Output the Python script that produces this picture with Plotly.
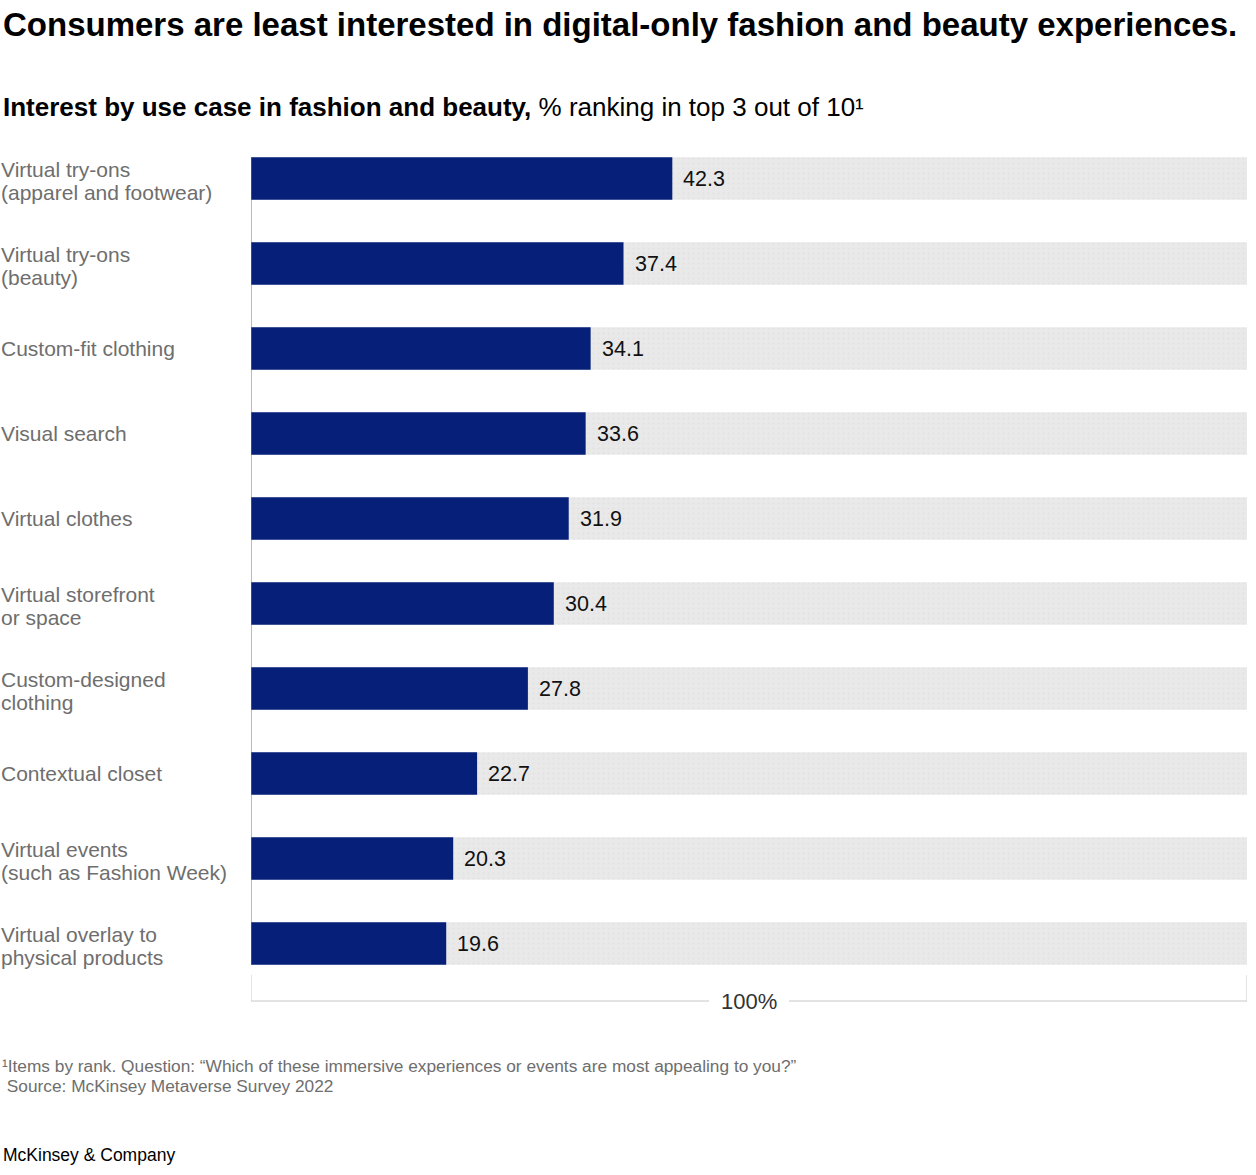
import plotly.graph_objects as go

categories = [
    "Virtual try-ons<br>(apparel and footwear)",
    "Virtual try-ons<br>(beauty)",
    "Custom-fit clothing",
    "Visual search",
    "Virtual clothes",
    "Virtual storefront<br>or space",
    "Custom-designed<br>clothing",
    "Contextual closet",
    "Virtual events<br>(such as Fashion Week)",
    "Virtual overlay to<br>physical products",
]
values = [42.3, 37.4, 34.1, 33.6, 31.9, 30.4, 27.8, 22.7, 20.3, 19.6]
totals = [100] * len(categories)
scale_label = "100%"
footnotes = [
    "¹Items by rank. Question: “Which of these immersive experiences or events are most appealing to you?”",
    " Source: McKinsey Metaverse Survey 2022",
]

W, H = 1256, 1175
ML, MR, MT, MB = 251, 9, 136, 189
PW = W - ML - MR
PH = H - MT - MB

FONT = "Liberation Sans"
BLUE = "#061f78"
GRAY_TXT = "#6e6e6e"

fig = go.Figure()
fig.add_trace(go.Bar(
    y=categories, x=totals, orientation="h", width=0.5,
    marker=dict(color="#e8e8e8", line=dict(width=0),
                pattern=dict(shape=".", bgcolor="#e9e9e9", fgcolor="#dadada", size=5, solidity=0.15)),
    hoverinfo="skip", showlegend=False,
))
fig.add_trace(go.Bar(
    y=categories, x=values, orientation="h", width=0.5,
    marker=dict(color=BLUE, line=dict(width=0)),
    showlegend=False,
))

annotations = []
LINE_H = 23
for c, v in zip(categories, values):
    annotations.append(dict(
        x=v, y=c, xref="x", yref="y", text=f"{v:.1f}", showarrow=False,
        xanchor="left", xshift=9, font=dict(family=FONT, size=21.5, color="#111111"),
    ))
    lines = c.split("<br>")
    n = len(lines)
    for i, ln in enumerate(lines):
        shift = ((n - 1) / 2 - i) * LINE_H - (2 if n > 1 else 0)
        annotations.append(dict(
            x=(0 - ML) / PW, y=c, xref="paper", yref="y", text=ln, showarrow=False,
            xanchor="left", align="left", yshift=shift, borderpad=0,
            font=dict(family=FONT, size=21, color=GRAY_TXT),
        ))

def px_y(py):
    return (H - MB - py) / PH

# title & subtitle
annotations.append(dict(
    x=(2 - ML) / PW, y=px_y(25), xref="paper", yref="paper", xanchor="left", yanchor="middle",
    text="<b>Consumers are least interested in digital-only fashion and beauty experiences.</b>",
    showarrow=False, borderpad=0, font=dict(family=FONT, size=33, color="#000000"),
))
annotations.append(dict(
    x=(2 - ML) / PW, y=px_y(107), xref="paper", yref="paper", xanchor="left", yanchor="middle",
    text="<b>Interest by use case in fashion and beauty,</b> % ranking in top 3 out of 10¹",
    showarrow=False, borderpad=0, font=dict(family=FONT, size=26, color="#000000"),
))
# footnotes
for i, fn in enumerate(footnotes):
    annotations.append(dict(
        x=(1 - ML) / PW, y=px_y(1066 + 20 * i), xref="paper", yref="paper", xanchor="left", yanchor="middle",
        align="left", text=fn, showarrow=False, borderpad=0,
        font=dict(family=FONT, size=17.3, color=GRAY_TXT),
    ))
annotations.append(dict(
    x=(2 - ML) / PW, y=px_y(1155), xref="paper", yref="paper", xanchor="left", yanchor="middle",
    text="McKinsey & Company", showarrow=False, borderpad=0,
    font=dict(family=FONT, size=17.5, color="#000000"),
))
# scale bracket label
annotations.append(dict(
    x=50, y=px_y(1001), xref="x", yref="paper", xanchor="center", yanchor="middle",
    text=scale_label, showarrow=False, font=dict(family=FONT, size=22, color="#333333"),
))

LC = "#c8c8c8"
y_top, y_bot = px_y(975), px_y(1001)
gap = 40 / PW * 100
shapes = [
    dict(type="line", xref="x", yref="paper", x0=0, x1=0, y0=y_top, y1=y_bot, line=dict(color=LC, width=1)),
    dict(type="line", xref="x", yref="paper", x0=100, x1=100, y0=y_top, y1=y_bot, line=dict(color=LC, width=1)),
    dict(type="line", xref="x", yref="paper", x0=0, x1=50 - gap, y0=y_bot, y1=y_bot, line=dict(color=LC, width=1)),
    dict(type="line", xref="x", yref="paper", x0=50 + gap, x1=100, y0=y_bot, y1=y_bot, line=dict(color=LC, width=1)),
    # baseline along the bars
    dict(type="line", xref="x", yref="y", x0=0, x1=0, y0=-0.25, y1=len(categories) - 0.75,
         line=dict(color="#777777", width=1), layer="above"),
]

fig.update_layout(
    width=W, height=H,
    margin=dict(l=ML, r=MR, t=MT, b=MB),
    barmode="overlay", bargap=0.5,
    plot_bgcolor="white", paper_bgcolor="white",
    xaxis=dict(range=[0, 100], visible=False, fixedrange=True),
    yaxis=dict(autorange="reversed", showticklabels=False, showgrid=False, zeroline=False,
               showline=False, ticks=""),
    annotations=annotations, shapes=shapes,
    font=dict(family=FONT),
)

fig.write_html("out.html")
